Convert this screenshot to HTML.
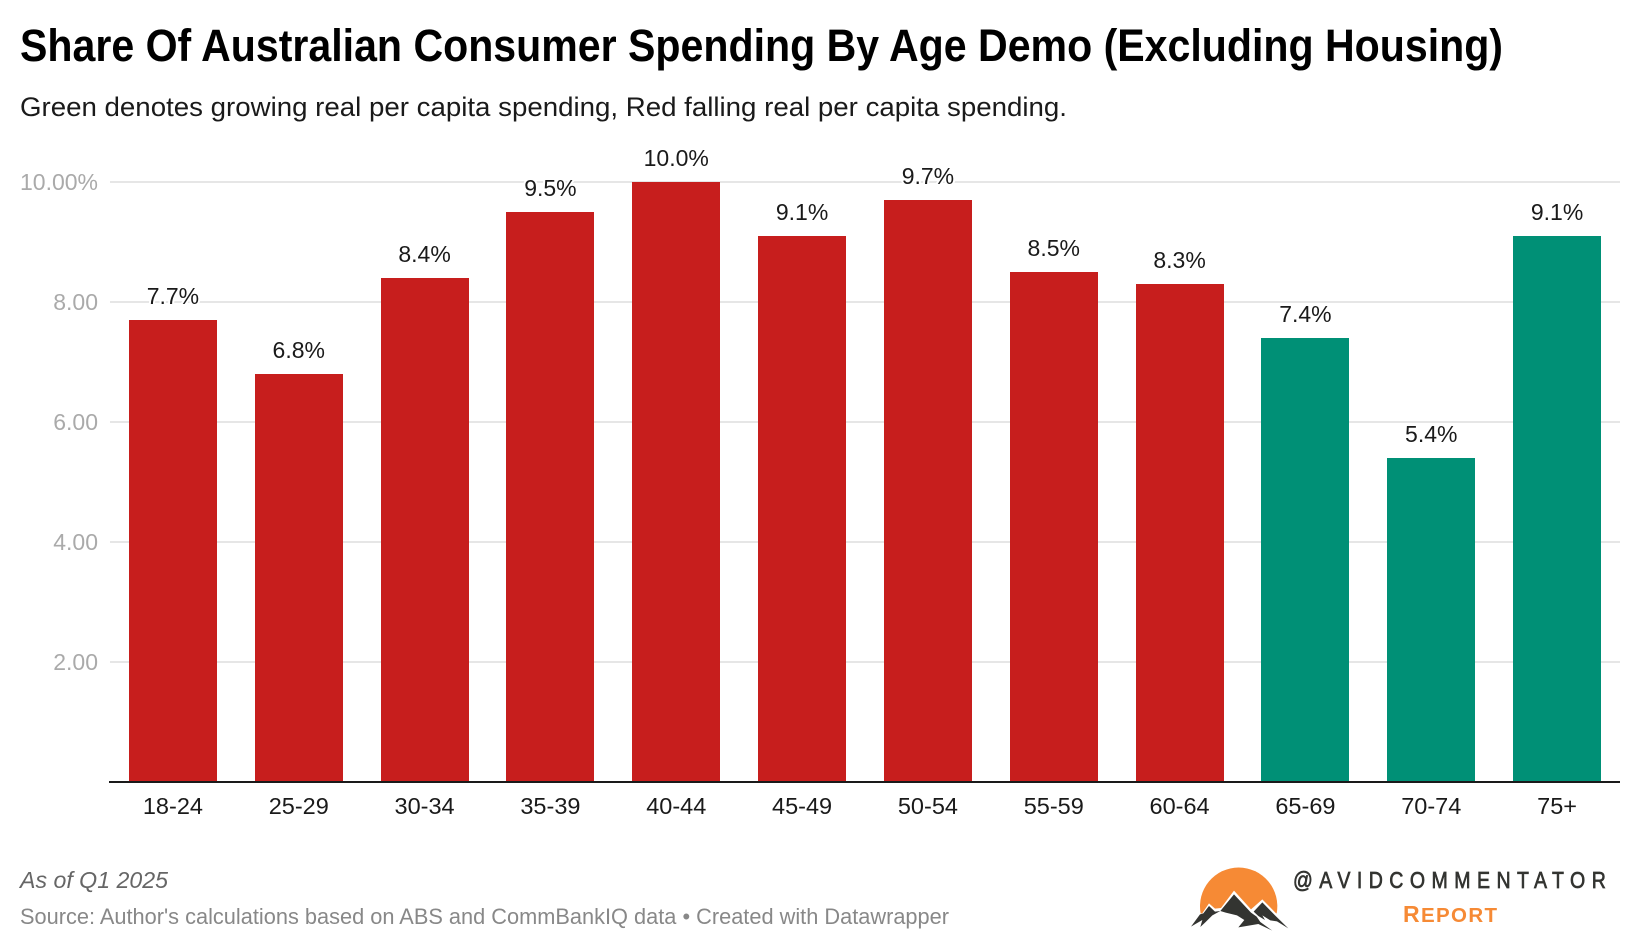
<!DOCTYPE html>
<html lang="en">
<head>
<meta charset="utf-8">
<title>Share Of Australian Consumer Spending By Age Demo</title>
<style>
html,body{margin:0;padding:0;background:#fff;}
svg{display:block;font-family:"Liberation Sans",sans-serif;}
</style>
</head>
<body>
<svg id="chart" width="1640" height="950" viewBox="0 0 1640 950" xmlns="http://www.w3.org/2000/svg">
  <text x="20" y="61" font-size="45" font-weight="700" fill="#000" textLength="1483" lengthAdjust="spacingAndGlyphs">Share Of Australian Consumer Spending By Age Demo (Excluding Housing)</text>
  <text x="20" y="116" font-size="27" fill="#1a1a1a" textLength="1047" lengthAdjust="spacingAndGlyphs">Green denotes growing real per capita spending, Red falling real per capita spending.</text>
  <g id="grid"></g>
  <g id="bars"></g>
  <g id="values"></g>
  <g id="xaxis"></g>
  <text x="20" y="888" font-size="23" font-style="italic" fill="#666" textLength="148" lengthAdjust="spacingAndGlyphs">As of Q1 2025</text>
  <text x="20" y="924" font-size="22" fill="#888" textLength="929" lengthAdjust="spacingAndGlyphs">Source: Author's calculations based on ABS and CommBankIQ data • Created with Datawrapper</text>
  <g>
    <g transform="translate(1185 860) scale(0.3333)">
      <path d="M47 160 A116 116 0 1 1 275 160 L47 160 Z" fill="#f68a35"/>
      <path d="M45 170 L72 130 L90 146 L108 144 L147 92 L198 148 L232 118 L285 172 L260 182 L60 182 Z" fill="#fff"/>
      <path d="M18 200 L45 163 L55 160 L72 138 L90 155 L106 153 L82 166 L62 186 L46 201 L52 180 Z" fill="#333431"/>
      <path d="M106 153 L147 103 L198 158 L215 170 L226 186 L262 212 L220 192 L160 202 L178 180 L156 166 L122 158 Z" fill="#333431"/>
      <path d="M206 155 L232 127 L272 168 L310 205 L276 184 L256 181 L232 166 L240 180 L220 168 Z" fill="#333431"/>
    </g>
    <text transform="translate(1293 888) scale(0.85 1)" x="0" y="0" font-size="23" font-weight="400" fill="#333431" stroke="#333431" stroke-width="0.7" textLength="368" lengthAdjust="spacing">@AVIDCOMMENTATOR</text>
    <text x="1403" y="922" font-size="23" font-weight="700" fill="#f68a35" textLength="94" lengthAdjust="spacing">R<tspan font-size="20.5">EPORT</tspan></text>
  </g>
</svg>
<script>
const categories = ['18-24','25-29','30-34','35-39','40-44','45-49','50-54','55-59','60-64','65-69','70-74','75+'];
const shareValues = [7.7,6.8,8.4,9.5,10.0,9.1,9.7,8.5,8.3,7.4,5.4,9.1];
const spendingTrend = ['falling','falling','falling','falling','falling','falling','falling','falling','falling','growing','growing','growing'];
const yTicks = [2,4,6,8,10];
const yTickLabels = ['2.00','4.00','6.00','8.00','10.00%'];

const NS = 'http://www.w3.org/2000/svg';
const plot = {left:110, right:1620, top:182, bottom:782, yMax:10};
const trendColor = {falling:'#c71e1d', growing:'#009076'};
const band = () => (plot.right - plot.left) / categories.length;
const xCenter = i => plot.left + band() * (i + 0.5);
const yScale = v => plot.bottom - (v / plot.yMax) * (plot.bottom - plot.top);
const barWidth = () => Math.round(band() * 0.7);

function svgEl(tag, attrs, text) {
  const el = document.createElementNS(NS, tag);
  for (const k in attrs) el.setAttribute(k, attrs[k]);
  if (text !== undefined) el.textContent = text;
  return el;
}

const grid = document.getElementById('grid');
yTicks.forEach((t, i) => {
  const line = svgEl('line', {x1:plot.left, x2:plot.right, y1:yScale(t), y2:yScale(t), stroke:'#e6e6e6', 'stroke-width':2});
  
  
  grid.appendChild(line);
  const label = svgEl('text', {x:98, y:yScale(t)+8, 'text-anchor':'end', 'font-size':23, fill:'#aaaaaa'}, yTickLabels[i]);
  
  
  grid.appendChild(label);
});

const bars = document.getElementById('bars');
const valuesG = document.getElementById('values');
const xaxis = document.getElementById('xaxis');
categories.forEach((c, i) => {
  const v = shareValues[i];
  const rect = svgEl('rect', {x:Math.round(xCenter(i)-barWidth()/2), y:yScale(v), width:barWidth(), height:plot.bottom-yScale(v), fill:trendColor[spendingTrend[i]]});
  
  
  bars.appendChild(rect);

  const val = svgEl('text', {x:xCenter(i), y:yScale(v)-16, 'text-anchor':'middle', 'font-size':23, fill:'#1a1a1a', stroke:'#fff', 'stroke-width':4, 'paint-order':'stroke'}, v.toFixed(1)+'%');
  
  
  valuesG.appendChild(val);

  const tick = svgEl('text', {x:xCenter(i), y:814, 'text-anchor':'middle', 'font-size':23.5, fill:'#1a1a1a'}, c);
  
  
  xaxis.appendChild(tick);
});
const axisLine = svgEl('line', {x1:plot.left-1, x2:plot.right, y1:plot.bottom, y2:plot.bottom, stroke:'#1a1a1a', 'stroke-width':2});


xaxis.appendChild(axisLine);
</script>
</body>
</html>
